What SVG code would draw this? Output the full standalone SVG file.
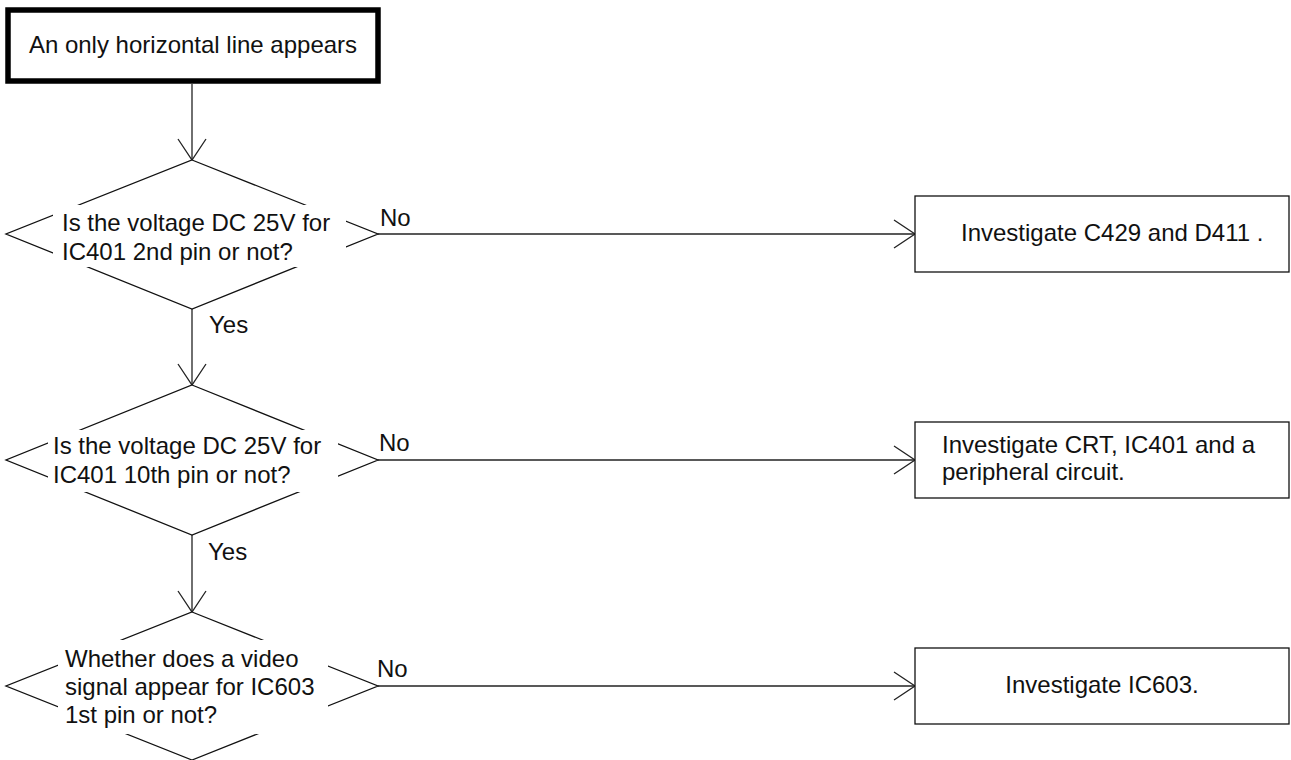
<svg xmlns="http://www.w3.org/2000/svg" width="1291" height="760" viewBox="0 0 1291 760">
  <defs>
    <style>
      .t { font-family: "Liberation Sans", Arial, sans-serif; font-size: 24px; fill: #111; }
      .mid { text-anchor: middle; }
      .box { fill: #fff; stroke: #111; stroke-width: 1.3; }
      .start { fill: #fff; stroke: #000; stroke-width: 5.5; }
      .dia { fill: #fff; stroke: #111; stroke-width: 1.3; }
      .mask { fill: #fff; stroke: none; }
      .edge { fill: none; stroke: #222; stroke-width: 1.3; marker-end: url(#arrow); }
    </style>
    <marker id="arrow" markerUnits="userSpaceOnUse" markerWidth="30" markerHeight="32" refX="0" refY="0" viewBox="-24 -16 26 32" orient="auto" overflow="visible">
      <path d="M-21,-14 L0,0 L-21,14" fill="none" stroke="#222" stroke-width="1.3"/>
    </marker>
  </defs>

  <!-- connectors -->
  <g id="connectors">
    <line class="edge" x1="192" y1="84" x2="192" y2="160"/>
    <line class="edge" x1="192" y1="309" x2="192" y2="385"/>
    <line class="edge" x1="192" y1="535" x2="192" y2="612"/>
    <line class="edge" x1="378" y1="234" x2="915" y2="234"/>
    <line class="edge" x1="378" y1="460" x2="915" y2="460"/>
    <line class="edge" x1="378" y1="686" x2="915" y2="686"/>
    <text class="t" x="380" y="226">No</text>
    <text class="t" x="379" y="451">No</text>
    <text class="t" x="377" y="677">No</text>
    <text class="t" x="209" y="333">Yes</text>
    <text class="t" x="208" y="560">Yes</text>
  </g>

  <!-- start -->
  <g id="start">
    <rect class="start" x="8" y="10" width="370" height="71"/>
    <text class="t mid" x="193" y="53">An only horizontal line appears</text>
  </g>

  <!-- decision 1 -->
  <g id="q1">
    <polygon class="dia" points="192,160 378,234 192,309 6,234"/>
    <rect class="mask" x="53" y="205" width="293" height="62"/>
    <text class="t" x="62" y="231">Is the voltage DC 25V for</text>
    <text class="t" x="62" y="260">IC401 2nd pin or not?</text>
  </g>

  <!-- decision 2 -->
  <g id="q2">
    <polygon class="dia" points="192,385 378,460 192,535 6,460"/>
    <rect class="mask" x="48" y="430" width="290" height="62"/>
    <text class="t" x="53" y="454">Is the voltage DC 25V for</text>
    <text class="t" x="53" y="483">IC401 10th pin or not?</text>
  </g>

  <!-- decision 3 -->
  <g id="q3">
    <polygon class="dia" points="192,612 378,686 192,760 6,686"/>
    <rect class="mask" x="58" y="640" width="270" height="94"/>
    <text class="t" x="65" y="667">Whether does a video</text>
    <text class="t" x="65" y="695">signal appear for IC603</text>
    <text class="t" x="65" y="723">1st pin or not?</text>
  </g>

  <!-- actions -->
  <g id="a1">
    <rect class="box" x="915" y="196" width="374" height="76"/>
    <text class="t" x="961" y="241">Investigate C429 and D411 .</text>
  </g>
  <g id="a2">
    <rect class="box" x="915" y="422" width="374" height="76"/>
    <text class="t" x="942" y="453">Investigate CRT, IC401 and a</text>
    <text class="t" x="942" y="480">peripheral circuit.</text>
  </g>
  <g id="a3">
    <rect class="box" x="915" y="648" width="374" height="76"/>
    <text class="t mid" x="1102" y="693">Investigate IC603.</text>
  </g>
</svg>
